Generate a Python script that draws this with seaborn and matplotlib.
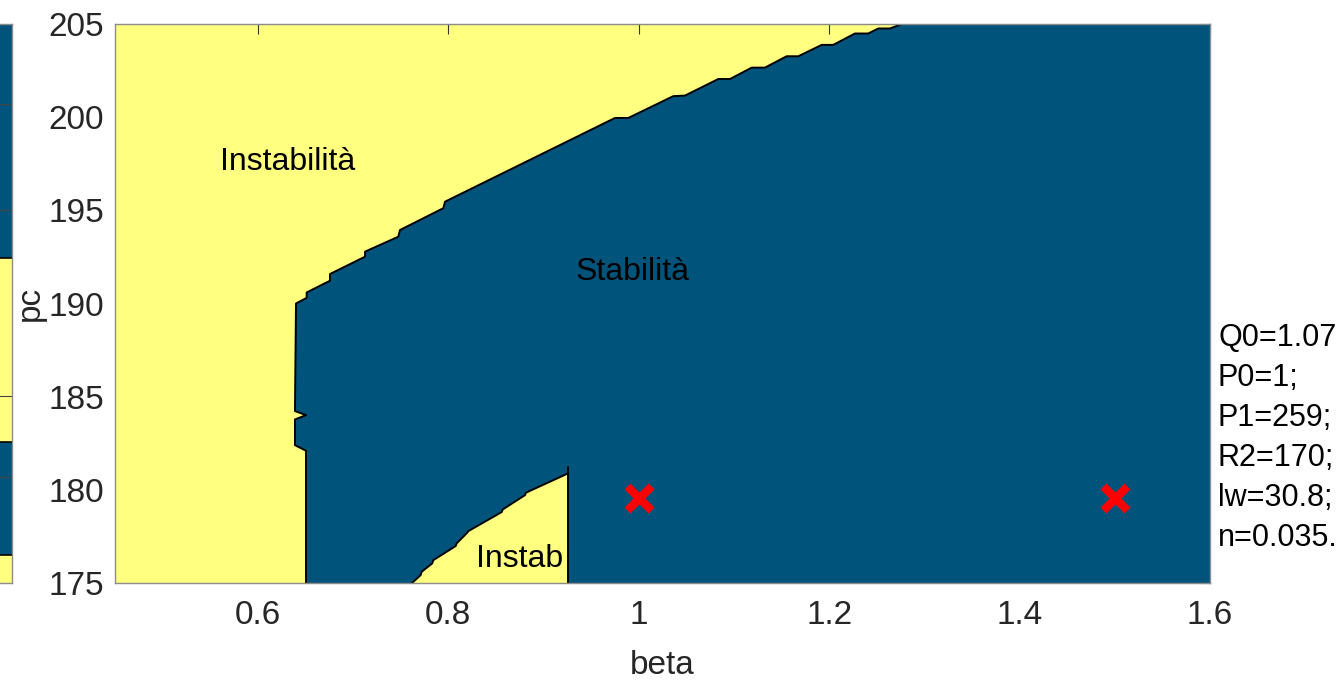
import numpy as np
import matplotlib
matplotlib.use("Agg")
import matplotlib.pyplot as plt
import seaborn as sns

# -------------------------------
# dati
# -------------------------------
# bordo sinistro della zona stabile (dal basso verso l'alto)
left_beta = [0.6506, 0.6506, 0.639, 0.639, 0.6506, 0.639, 0.6401]
left_pc = [175.0, 182.11, 182.41, 183.79, 184.02, 184.24, 190.01]

# bordo superiore della zona stabile
upper_beta = [0.6513, 0.6513, 0.6758, 0.6758, 0.7126, 0.7126, 0.7475, 0.7493,
              0.7948, 0.7966, 0.9751, 0.9891, 1.0363, 1.0486, 1.0836, 1.0959,
              1.1187, 1.1326, 1.1554, 1.1676, 1.1922, 1.2043, 1.2271, 1.2411,
              1.2516, 1.2639, 1.2762]
upper_pc = [190.31, 190.60, 191.23, 191.59, 192.52, 192.79, 193.59, 193.95,
            195.12, 195.47, 199.96, 199.96, 201.13, 201.16, 202.05, 202.05,
            202.66, 202.66, 203.27, 203.27, 203.88, 203.88, 204.49, 204.49,
            204.76, 204.76, 205.0]

# piccola zona instabile in basso
pocket_beta = [0.7616, 0.7710, 0.7721, 0.7832, 0.7843, 0.8078, 0.8088, 0.8193,
               0.8211, 0.8561, 0.8572, 0.8806, 0.8816, 0.926, 0.926]
pocket_pc = [175.0, 175.44, 175.62, 176.07, 176.24, 177.00, 177.14, 177.68,
             177.80, 178.82, 178.96, 179.73, 179.86, 180.90, 175.0]
pocket_top = 181.25

# punti di lavoro
marker_beta = [1.0, 1.5]
marker_pc = [179.6, 179.6]

# striscia del grafico accanto (tagliato)
strip_edges = [175.0, 176.53, 182.57, 192.45, 205.0]
strip_stable = [False, True, False, True]
strip_lines = [200.71, 195.02, 185.04, 180.72]

params = ["Q0=1.07;", "P0=1;", "P1=259;", "R2=170;", "lw=30.8;", "n=0.035."]

xticks = [0.6, 0.8, 1.0, 1.2, 1.4, 1.6]
xtick_labels = ["0.6", "0.8", "1", "1.2", "1.4", "1.6"]
yticks = [175, 180, 185, 190, 195, 200, 205]

BLUE = "#00547c"
YELLOW = "#ffff80"

# -------------------------------
# stile
# -------------------------------
sns.set_theme(style="white")
plt.rcParams['font.family'] = ['Liberation Sans', 'DejaVu Sans']
plt.rcParams['xtick.direction'] = 'in'
plt.rcParams['ytick.direction'] = 'in'

W, H = 1339, 682
fig = plt.figure(figsize=(W / 100, H / 100), dpi=100)

ax_l, ax_r, ax_t, ax_b = 115, 1210, 24, 583.3
ax = fig.add_axes([ax_l / W, 1 - ax_b / H, (ax_r - ax_l) / W, (ax_b - ax_t) / H])

# sfondo instabile
ax.set_facecolor(YELLOW)

# zona stabile
stab_beta = left_beta + upper_beta + [1.6, 1.6]
stab_pc = left_pc + upper_pc + [205.0, 175.0]
ax.fill(stab_beta, stab_pc, color=BLUE, lw=0, zorder=1)
ax.plot(left_beta + upper_beta, left_pc + upper_pc, color="black", lw=1.4, zorder=3)

# zona instabile piccola
ax.fill(pocket_beta, pocket_pc, color=YELLOW, lw=0, zorder=2)
ax.plot(pocket_beta[:-1], pocket_pc[:-1], color="black", lw=1.4, zorder=3)
ax.plot([pocket_beta[-1], pocket_beta[-1]], [175.0, pocket_top], color="black", lw=1.4, zorder=3)

# punti
sns.scatterplot(x=marker_beta, y=marker_pc, ax=ax, marker="x", s=300,
                color="red", linewidth=6, zorder=5, legend=False)

ax.set_xlim(0.45, 1.6)
ax.set_ylim(175, 205)
ax.set_xticks(xticks)
ax.set_xticklabels(xtick_labels)
ax.set_yticks(yticks)
ax.tick_params(axis="both", which="both", labelsize=24, length=7, width=0.8,
               color="#333333", labelcolor="#262626", top=True, right=True)
ax.tick_params(axis="y", pad=8)
ax.tick_params(axis="x", pad=12)
for s in ax.spines.values():
    s.set_color("#8c8c8c")
    s.set_linewidth(1.0)
    s.set_zorder(6)
ax.set_xlabel("beta", fontsize=24, color="#262626", labelpad=14)
ax.set_ylabel("pc", fontsize=24, color="#262626", labelpad=2)

ax.text(0.6317, 197.6, "Instabilità", fontsize=23, ha="center", va="center", color="black", zorder=4)
ax.text(0.994, 191.7, "Stabilità", fontsize=23, ha="center", va="center", color="black", zorder=4)
ax.text(0.875, 176.3, "Instab", fontsize=23, ha="center", va="center", color="black", zorder=4)

# striscia a sinistra
ax2 = fig.add_axes([-0.05, 1 - ax_b / H, 0.05 + 12 / W, (ax_b - ax_t) / H])
for i, st in enumerate(strip_stable):
    ax2.fill_between([0, 1], strip_edges[i], strip_edges[i + 1],
                     color=BLUE if st else YELLOW, lw=0)
for e in strip_edges[1:-1]:
    ax2.axhline(e, color="black", lw=1.2)
for e in strip_lines:
    ax2.axhline(e, color="#444444", lw=0.8)
ax2.set_xlim(0, 1)
ax2.set_ylim(175, 205)
ax2.set_xticks([])
ax2.set_yticks([])
for s in ax2.spines.values():
    s.set_color("#8c8c8c")
    s.set_linewidth(1.0)

# parametri a destra
for i, p in enumerate(params):
    fig.text(1218 / W, 1 - (338 + 40 * i) / H, p, fontsize=22, ha="left", va="center", color="black")

fig.savefig("out.png", dpi=100)
